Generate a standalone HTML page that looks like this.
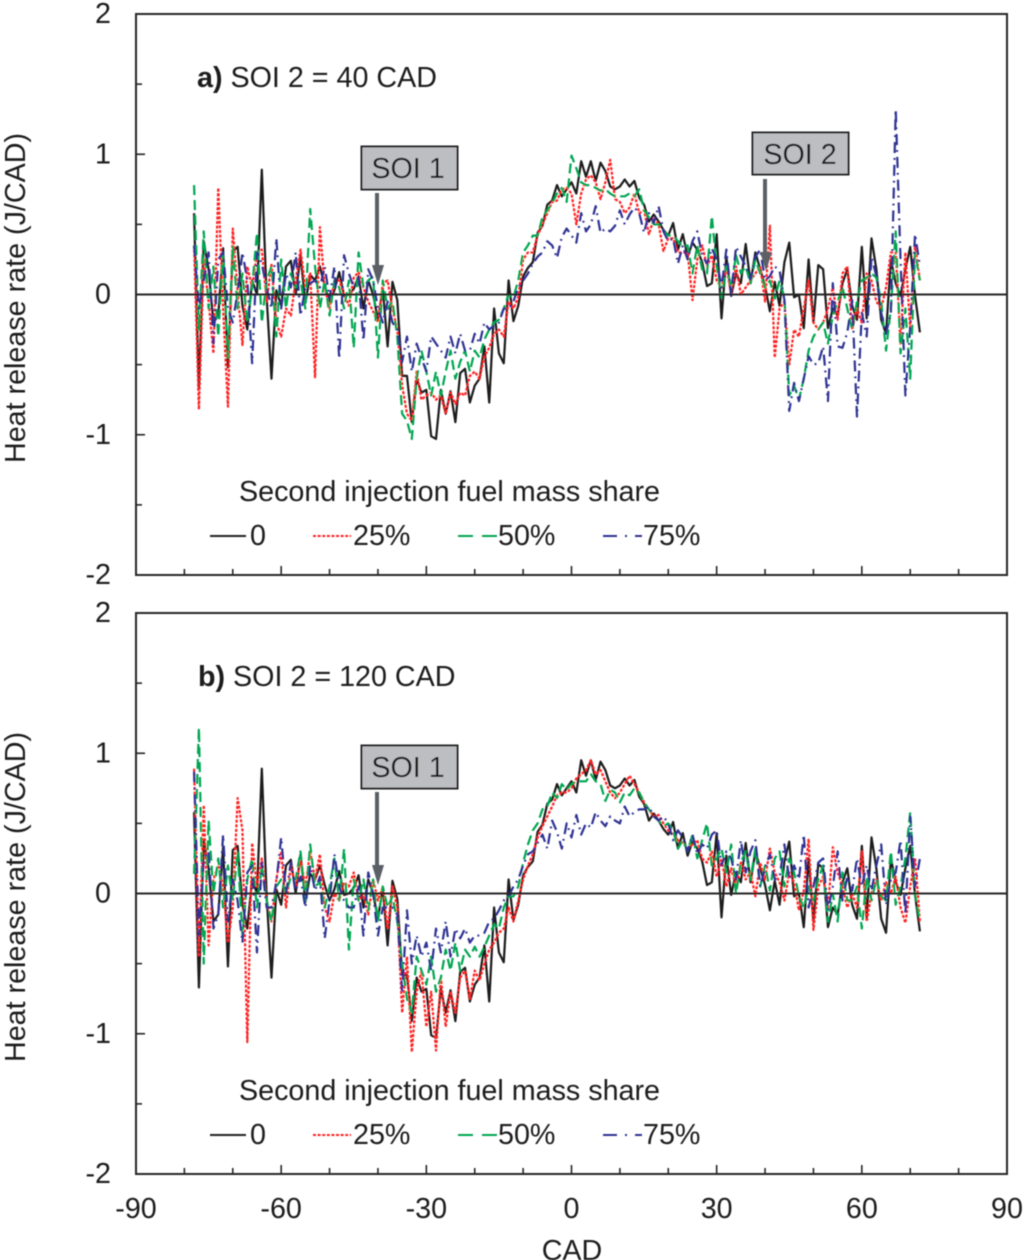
<!DOCTYPE html>
<html lang="en">
<head>
<meta charset="utf-8">
<title>Heat release rate versus CAD</title>
<style>
html,body{margin:0;padding:0;background:#fff;width:1024px;height:1260px;overflow:hidden}
svg{display:block;font-family:"Liberation Sans",Arial,sans-serif}
text{fill:#1c1c1c;font-size:28.7px}
</style>
</head>
<body>
<svg id="chart" xmlns="http://www.w3.org/2000/svg" width="1024" height="1260" viewBox="0 0 1024 1260">
<defs><filter id="soft" x="-2%" y="-2%" width="104%" height="104%"><feGaussianBlur stdDeviation="0.45"/></filter></defs>
<g id="root" filter="url(#soft)">
  <g id="panel-a"></g>
  <g id="panel-b"></g>

  <text x="197" y="87"><tspan font-weight="bold">a)</tspan> SOI 2 = 40 CAD</text>
  <text x="198" y="686"><tspan font-weight="bold">b)</tspan> SOI 2 = 120 CAD</text>

  <text transform="translate(25,298) rotate(-90)" text-anchor="middle">Heat release rate (J/CAD)</text>
  <text transform="translate(25,897) rotate(-90)" text-anchor="middle">Heat release rate (J/CAD)</text>
  <text x="572" y="1260" text-anchor="middle">CAD</text>

  <g>
    <text x="239" y="501">Second injection fuel mass share</text>
    <g><line x1="210" y1="536" x2="246" y2="536" stroke="#222" stroke-width="2"/><text x="250" y="545">0</text></g>
    <g><line x1="313" y1="536" x2="351" y2="536" stroke="#ff2020" stroke-width="2" stroke-dasharray="3 1.6"/><text x="353" y="545">25%</text></g>
    <g><line x1="458" y1="536" x2="497" y2="536" stroke="#00a651" stroke-width="2" stroke-dasharray="15 9"/><text x="498" y="545">50%</text></g>
    <g><line x1="603" y1="536" x2="642" y2="536" stroke="#2e3192" stroke-width="2" stroke-dasharray="14 8 2 8"/><text x="643" y="545">75%</text></g>
  </g>
  <g>
    <text x="239" y="1100">Second injection fuel mass share</text>
    <g><line x1="210" y1="1135" x2="246" y2="1135" stroke="#222" stroke-width="2"/><text x="250" y="1144">0</text></g>
    <g><line x1="313" y1="1135" x2="351" y2="1135" stroke="#ff2020" stroke-width="2" stroke-dasharray="3 1.6"/><text x="353" y="1144">25%</text></g>
    <g><line x1="458" y1="1135" x2="497" y2="1135" stroke="#00a651" stroke-width="2" stroke-dasharray="15 9"/><text x="498" y="1144">50%</text></g>
    <g><line x1="603" y1="1135" x2="642" y2="1135" stroke="#2e3192" stroke-width="2" stroke-dasharray="14 8 2 8"/><text x="643" y="1144">75%</text></g>
  </g>

  <g>
    <rect x="361.5" y="146.5" width="96" height="43" fill="#bcbec2" stroke="#222" stroke-width="2"/>
    <text x="408" y="178" text-anchor="middle">SOI 1</text>
    <path d="M375 193h4v72h5l-6 20-6-20h3z" fill="#5a6066"/>
  </g>
  <g>
    <rect x="752.5" y="132.5" width="96" height="42" fill="#bcbec2" stroke="#222" stroke-width="2"/>
    <text x="800" y="164" text-anchor="middle">SOI 2</text>
    <path d="M763 179h4v73h5l-6 19-6-19h3z" fill="#5a6066"/>
  </g>
  <g>
    <rect x="361.5" y="745.5" width="96" height="43" fill="#bcbec2" stroke="#222" stroke-width="2"/>
    <text x="408" y="777" text-anchor="middle">SOI 1</text>
    <path d="M375 792h4v73h5l-6 20-6-20h3z" fill="#5a6066"/>
  </g>
</g>
</svg>
<script>
const xTickLabels = ["-90","-60","-30","0","30","60","90"];
const xTickValues = [-90,-60,-30,0,30,60,90];
const yTickLabels = ["2","1","0","-1","-2"];
const yTickValues = [2,1,0,-1,-2];
const cadStart = -78;
const cadStep = 1;

const seriesZero = [
 .58,-.67,.38,.18,-.2,-.15,.33,-.52,.31,.34,
 -.08,-.25,.1,0,.89,-.02,-.6,.03,-.08,.2,
 .24,0,.28,-.06,.14,.1,.2,.06,-.05,.03,
 .16,-.01,0,.04,.13,-.1,.1,0,-.18,.04,
 -.37,.09,-.04,-.58,-.58,-.91,-.6,-.7,-.68,-1.01,
 -1.03,-.68,-.85,-.69,-.91,-.56,-.53,-.77,-.65,-.6,
 -.37,-.77,-.1,-.42,-.49,.1,-.19,-.08,.13,.19,
 .23,.44,.49,.64,.67,.78,.7,.75,.8,.72,
 .95,.84,.95,.81,.94,.88,.77,.75,.77,.82,
 .77,.81,.69,.64,.52,.57,.52,.46,.42,.51,
 .32,.43,.27,.37,.32,.23,.06,.08,.43,-.17,
 .27,-.01,.15,.08,.36,.08,.3,.18,.06,-.12,
 .09,-.08,.23,.37,-.02,0,-.24,.25,-.2,.21,
 .18,-.24,-.1,-.15,.08,.18,-.08,-.18,.34,-.17,
 .4,.18,-.18,-.28,.25,.08,-.01,.18,.34,-.01,
 -.27];

const seriesA25 = [
 .35,-.82,.25,-.05,-.42,.76,-.1,-.8,.47,.02,
 -.36,.2,.05,.3,.32,-.05,.22,-.2,-.3,-.1,
 -.15,.1,.32,.05,.15,-.59,.48,.05,-.1,.1,
 .1,0,-.08,.12,.16,.05,-.05,-.12,-.2,.08,
 .1,-.1,-.25,-.65,-.85,-.9,-.55,-.75,-.72,-.7,
 -.75,-.72,-.85,-.7,-.78,-.7,-.72,-.58,-.55,-.6,
 -.44,-.38,-.28,-.25,-.3,-.05,-.1,-.02,.25,.3,
 .3,.42,.5,.58,.66,.67,.75,.76,.72,.5,
 .72,.82,.85,.8,.68,.8,.96,.68,.66,.58,
 .62,.72,.58,.6,.43,.54,.5,.31,.4,.4,
 .3,.3,.3,-.04,.25,.35,.2,.28,.1,.05,
 .2,0,.2,0,.05,.1,.15,.2,-.05,.49,
 -.45,-.1,-.05,-.5,-.25,-.3,-.1,.1,-.2,-.25,
 -.2,-.1,.05,-.18,.15,.2,-.25,-.1,-.2,.15,
 .1,-.05,-.1,.05,.3,.3,-.35,.3,-.25,.35,
 .1];

const seriesA50 = [
 .78,-.25,.45,-.1,.2,-.3,.3,-.45,.35,-.1,
 .15,-.2,.05,.44,-.2,.1,.2,-.3,.25,-.1,
 .15,.05,.1,-.1,.61,.2,-.1,.1,-.15,.1,
 .05,-.1,.1,-.38,.3,.05,.1,.13,-.45,.1,
 -.1,-.05,-.3,-.85,-.9,-1.03,-.6,-.4,-.55,-.72,
 -.55,-.72,-.55,-.4,-.6,-.48,-.4,-.55,-.4,-.45,
 -.32,-.25,-.2,-.18,-.1,0,-.02,.1,.3,.35,
 .42,.42,.55,.6,.65,.72,.76,.66,.99,.9,
 .8,.78,.78,.76,.74,.75,.72,.7,.7,.7,
 .72,.7,.75,.6,.55,.5,.5,.45,.42,.42,
 .38,.34,.35,.15,.35,.18,.15,.56,.2,-.02,
 .2,.05,.28,.15,.2,.08,.25,.15,.05,.1,
 -.03,.1,-.02,-.72,-.65,-.75,-.6,-.4,-.3,-.25,
 -.2,-.35,-.15,-.05,.05,-.1,-.25,-.05,.1,.12,
 .15,.12,-.05,-.4,-.1,.45,-.42,-.1,-.6,.3,
 .1];

const seriesA75 = [
 .35,-.1,.1,.3,-.35,.25,.3,-.1,-.2,.02,
 .3,.1,-.49,.3,.22,.05,-.1,.4,-.1,.15,
 .05,.3,-.15,.05,.08,.1,.05,.2,-.03,.2,
 -.46,.28,.15,.05,.12,-.33,.18,.1,-.1,-.2,
 -.05,-.2,-.25,-.48,-.3,-.55,-.35,-.45,-.55,-.3,
 -.35,-.4,-.45,-.3,-.42,-.28,-.4,-.4,-.28,-.35,
 -.2,-.25,-.22,-.2,-.1,-.1,-.05,.05,.1,.15,
 .22,.27,.3,.38,.35,.26,.41,.47,.42,.37,
 .58,.45,.5,.63,.44,.47,.45,.49,.6,.5,
 .57,.62,.58,.44,.58,.51,.63,.45,.38,.4,
 .22,.35,.25,.38,.45,.28,.22,.33,.25,.05,
 .32,-.01,.34,.27,.2,.11,.27,.32,.1,.13,
 .2,.17,-.04,-.83,-.63,-.76,-.6,-.44,-.5,-.49,
 -.37,-.76,.08,-.37,-.38,-.27,-.04,-.87,-.13,-.3,
 .27,.13,-.13,-.28,-.13,1.32,.25,-.72,-.23,.43,
 .2];

const seriesB25 = [
 .89,-.45,.63,-.37,.1,.2,.05,-.35,-.1,.68,
 .45,-1.06,.36,.05,.25,-.05,-.2,.1,.3,-.1,
 .2,.05,.25,.05,.3,.1,.28,-.1,-.2,0,
 -.05,.08,.05,.15,-.05,0,-.15,.1,-.05,.05,
 -.25,.05,-.1,-.85,-.45,-1.13,-.7,-.55,-.95,-.7,
 -1.12,-.6,-.95,-.7,-.85,-.6,-.55,-.75,-.55,-.62,
 -.5,-.4,-.35,-.28,-.25,-.1,-.2,-.05,.1,.2,
 .28,.4,.48,.55,.62,.7,.72,.72,.75,.82,
 .85,.88,.95,.85,.88,.8,.72,.68,.72,.78,
 .84,.78,.72,.65,.6,.55,.56,.5,.45,.42,
 .38,.36,.32,.35,.38,.25,.22,.3,.12,.25,
 .05,.18,.05,.22,.1,.15,-.02,.22,.1,.32,
 .15,.08,-.05,.15,.08,-.12,.02,.39,-.26,.05,
 .12,-.1,.33,.15,.05,-.1,0,-.1,.3,-.2,
 0,.1,-.05,.08,0,.12,-.1,-.21,.05,.25,
 -.2];

const seriesB50 = [
 .14,1.18,-.5,.52,0,.25,-.1,.2,-.05,.3,
 -.3,.1,.25,-.1,.2,-.05,-.2,.05,.1,0,
 .12,.1,.3,-.05,.35,.05,.08,-.1,.05,.25,
 -.05,.32,-.4,.1,-.05,.1,-.12,.1,-.2,.05,
 -.1,-.02,-.2,-.5,-.75,-.85,-.45,-.55,-.65,-.45,
 -.7,-.6,-.4,-.55,-.35,-.55,-.4,-.45,-.38,-.45,
 -.38,-.3,-.22,-.25,-.1,-.02,-.02,.05,.22,.35,
 .45,.5,.6,.62,.72,.68,.78,.74,.78,.8,
 .8,.8,.85,.8,.78,.66,.74,.72,.65,.72,
 .7,.75,.72,.65,.6,.55,.52,.48,.5,.45,
 .32,.38,.3,.42,.25,.38,.5,.2,.25,.32,
 .15,.35,0,.22,.3,.1,.32,.05,.2,.02,
 .25,.3,.05,.25,.15,-.02,-.1,.05,-.05,.1,
 .2,-.2,0,-.2,.15,-.05,-.05,.05,-.25,.12,
 -.05,.1,-.02,-.05,.3,-.08,.05,.25,.58,0,
 -.2];

const seriesB75 = [
 .87,-.3,.25,.3,-.25,-.15,.42,-.2,.1,-.05,
 -.35,.15,.2,-.42,.22,-.1,-.1,.08,.4,0,
 .22,.02,.12,-.1,.2,.02,.12,-.32,-.05,.28,
 .05,-.05,-.1,-.1,.05,-.3,.15,0,-.3,-.1,
 -.1,-.1,-.15,-.7,-.12,-.5,-.3,-.45,-.35,-.55,
 -.25,-.42,-.2,-.45,-.25,-.32,-.25,-.35,-.3,-.3,
 -.28,-.2,-.18,-.12,-.05,-.02,.05,.1,.2,.28,
 .3,.36,.42,.32,.52,.44,.32,.5,.4,.56,
 .42,.5,.47,.58,.52,.48,.55,.52,.5,.62,
 .55,.58,.6,.6,.62,.55,.52,.55,.5,.38,
 .45,.4,.3,.42,.28,.35,.32,.42,.45,.2,
 .3,.25,.1,.38,.15,.3,.38,.05,.18,.28,
 .1,.12,.35,.1,.2,.1,.42,-.1,.05,.22,
 .25,-.12,.05,.3,-.05,.12,.02,.25,.05,.2,
 .02,.2,.35,-.08,.1,.15,.38,-.15,.55,.05,
 .25];

const SVG_NS = "http://www.w3.org/2000/svg";
const plotLeft = 136, plotRight = 1007, xMin = -90, xMax = 90;
function xScale(v){ return plotLeft + (v - xMin) * (plotRight - plotLeft) / (xMax - xMin); }
function makeYScale(top){ return function(v){ return top + (2 - v) * 561 / 4; }; }

function addLine(parent, x1, y1, x2, y2, width, colour){
  const ln = document.createElementNS(SVG_NS, "line");
  ln.setAttribute("x1", x1);
  ln.setAttribute("y1", y1);
  ln.setAttribute("x2", x2);
  ln.setAttribute("y2", y2);
  ln.setAttribute("stroke", colour);
  ln.setAttribute("stroke-width", width);
  parent.appendChild(ln);
  return ln;
}
function addText(parent, x, y, anchor, str){
  const t = document.createElementNS(SVG_NS, "text");
  t.setAttribute("x", x);
  t.setAttribute("y", y);
  t.setAttribute("text-anchor", anchor);
  t.textContent = str;
  parent.appendChild(t);
  return t;
}
function drawSeries(parent, values, yScale, colour, dash, name){
  let d = "";
  values.forEach(function(v, i){
    d += (i ? "L" : "M") + xScale(cadStart + i * cadStep).toFixed(2) + " " + yScale(v).toFixed(2);
  });
  const p = document.createElementNS(SVG_NS, "path");
  p.setAttribute("d", d);
  p.setAttribute("fill", "none");
  p.setAttribute("stroke", colour);
  p.setAttribute("stroke-width", "2.2");
  p.setAttribute("stroke-linejoin", "round");
  if (dash) p.setAttribute("stroke-dasharray", dash);
  
  
  parent.appendChild(p);
}
function drawPanel(id, top, series, showXLabels){
  const g = document.getElementById(id);
  const yScale = makeYScale(top);
  const axisColour = "#262626";
  const bottom = yScale(-2);

  series.forEach(function(s){ drawSeries(g, s.values, yScale, s.colour, s.dash, s.name); });

  const zero = addLine(g, plotLeft, yScale(0), plotRight, yScale(0), 2, axisColour);
  
  

  const frame = document.createElementNS(SVG_NS, "rect");
  frame.setAttribute("x", plotLeft);
  frame.setAttribute("y", top);
  frame.setAttribute("width", plotRight - plotLeft);
  frame.setAttribute("height", bottom - top);
  frame.setAttribute("fill", "none");
  frame.setAttribute("stroke", axisColour);
  frame.setAttribute("stroke-width", "2");
  
  
  g.appendChild(frame);

  for (let v = xMin + 10; v < xMax; v += 10) {
    const major = xTickValues.indexOf(v) >= 0;
    const tick = addLine(g, xScale(v), bottom, xScale(v), bottom - (major ? 9 : 6), 1.6, axisColour);
    
    
  }
  for (let v = -1.5; v < 2; v += 0.5) {
    const major = yTickValues.indexOf(v) >= 0;
    const tick = addLine(g, plotLeft, yScale(v), plotLeft + (major ? 9 : 6), yScale(v), 1.6, axisColour);
    
    
  }
  yTickValues.forEach(function(v, i){
    const t = addText(g, 111, yScale(v) + 9, "end", yTickLabels[i]);
    
    
  });
  if (showXLabels) {
    xTickValues.forEach(function(v, i){
      const t = addText(g, xScale(v), 1218, "middle", xTickLabels[i]);
      
      
    });
  }
}
const redStyle = "3 1.6";
const greenStyle = "10 5";
const blueStyle = "11 5 1.8 5";
drawPanel("panel-a", 14, [
  {values: seriesZero, colour: "#1a1a1a", dash: "", name: "series-a-0"},
  {values: seriesA25, colour: "#ff2020", dash: redStyle, name: "series-a-25"},
  {values: seriesA50, colour: "#00a651", dash: greenStyle, name: "series-a-50"},
  {values: seriesA75, colour: "#2e3192", dash: blueStyle, name: "series-a-75"}
], false);
drawPanel("panel-b", 613, [
  {values: seriesZero, colour: "#1a1a1a", dash: "", name: "series-b-0"},
  {values: seriesB25, colour: "#ff2020", dash: redStyle, name: "series-b-25"},
  {values: seriesB50, colour: "#00a651", dash: greenStyle, name: "series-b-50"},
  {values: seriesB75, colour: "#2e3192", dash: blueStyle, name: "series-b-75"}
], true);
</script>
</body>
</html>
